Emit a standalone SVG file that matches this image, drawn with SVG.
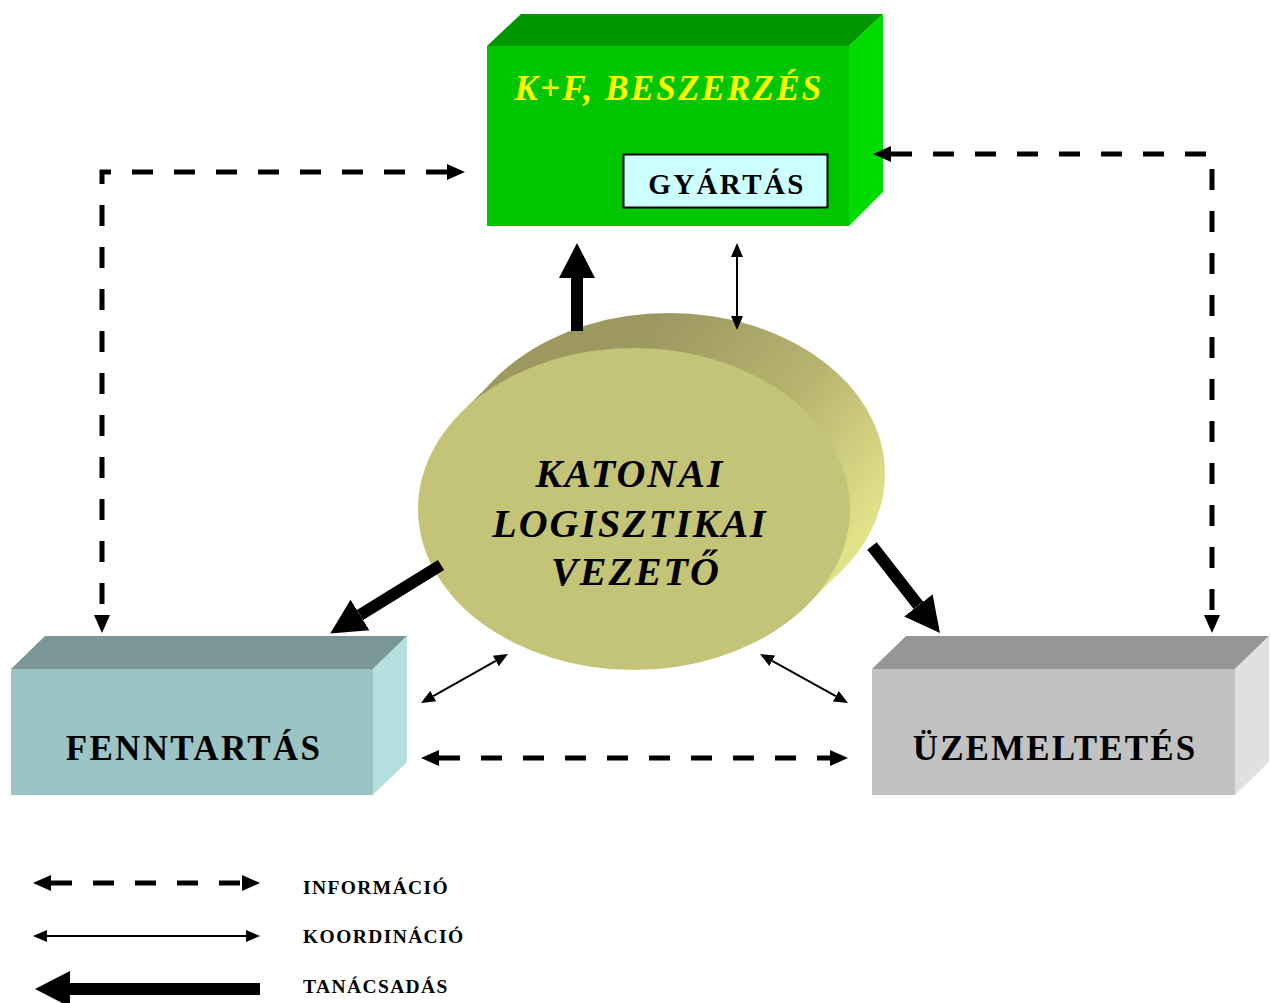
<svg xmlns="http://www.w3.org/2000/svg" width="1271" height="1003" viewBox="0 0 1271 1003">
  <style>
    .lbl { font-family: "Liberation Serif", "Times New Roman", serif; font-weight: bold; fill: #000; text-anchor: middle; }
    .leg { font-family: "Liberation Serif", "Times New Roman", serif; font-weight: bold; fill: #000; font-size: 19.5px; letter-spacing: 1.4px; }
    .dash { fill: none; stroke: #000; stroke-width: 5; stroke-dasharray: 21 21; }
    .thin { fill: none; stroke: #000; stroke-width: 2; }
    .thick { fill: none; stroke: #000; stroke-width: 12; }
  </style>
  <defs>
    <marker id="hDash" markerUnits="userSpaceOnUse" viewBox="0 -10 20 20" markerWidth="20" markerHeight="20" refX="0" refY="0" orient="auto-start-reverse">
      <path d="M0,-8 L18,0 L0,8 Z" fill="#000"/>
    </marker>
    <marker id="hThin" markerUnits="userSpaceOnUse" viewBox="0 -8 16 16" markerWidth="16" markerHeight="16" refX="0" refY="0" orient="auto-start-reverse">
      <path d="M0,-6 L14,0 L0,6 Z" fill="#000"/>
    </marker>
    <marker id="hThick" markerUnits="userSpaceOnUse" viewBox="0 -20 40 40" markerWidth="40" markerHeight="40" refX="0" refY="0" orient="auto-start-reverse">
      <path d="M0,-18 L35,0 L0,18 Z" fill="#000"/>
    </marker>
    <linearGradient id="discSide" x1="0" y1="0" x2="1" y2="0.6">
      <stop offset="0.35" stop-color="#9c9860"/>
      <stop offset="0.7" stop-color="#b8b470"/>
      <stop offset="1" stop-color="#e2e28a"/>
    </linearGradient>
  </defs>

  <!-- K+F, BESZERZÉS block -->
  <g id="node-kf">
    <polygon points="487,46 521,14 883,14 849,46" fill="#009600"/>
    <polygon points="849,46 883,14 883,192 849,226" fill="#00dc00"/>
    <rect x="487" y="46" width="362" height="180" fill="#00c600"/>
    <text x="669" y="100" class="lbl" font-size="35" font-style="italic" letter-spacing="2.2" style="fill:#ffff00">K+F, BESZERZÉS</text>
    <g id="node-gyartas">
      <rect x="623.5" y="154.5" width="204" height="53" fill="#ccffff" stroke="#000" stroke-width="2"/>
      <text x="727" y="194" class="lbl" font-size="29" letter-spacing="2.4">GYÁRTÁS</text>
    </g>
  </g>

  <!-- KATONAI LOGISZTIKAI VEZETŐ disc -->
  <g id="node-vezeto">
    <ellipse cx="669" cy="474" rx="216" ry="161" fill="url(#discSide)"/>
    <polygon points="461,413 496,378 842,570 807,605" fill="url(#discSide)"/>
    <ellipse cx="634" cy="509" rx="216" ry="161" fill="#c4c478"/>
    <text class="lbl" font-size="40" font-style="italic" letter-spacing="2">
      <tspan x="636" y="487">KATONAI</tspan>
      <tspan x="636" y="537">LOGISZTIKAI</tspan>
      <tspan x="636" y="585">VEZETŐ</tspan>
    </text>
  </g>

  <!-- FENNTARTÁS block -->
  <g id="node-fenntartas">
    <polygon points="11,669 45,636 407,636 373,669" fill="#7a9696"/>
    <polygon points="373,669 407,636 407,762 373,795" fill="#b4e0e0"/>
    <rect x="11" y="669" width="362" height="126" fill="#9cc4c4"/>
    <text x="194" y="760" class="lbl" font-size="35" letter-spacing="2.3">FENNTARTÁS</text>
  </g>

  <!-- ÜZEMELTETÉS block -->
  <g id="node-uzemeltetes">
    <polygon points="872,669 906,636 1269,636 1235,669" fill="#969696"/>
    <polygon points="1235,669 1269,636 1269,762 1235,795" fill="#e0e0e0"/>
    <rect x="872" y="669" width="363" height="126" fill="#c2c2c2"/>
    <text x="1055" y="760" class="lbl" font-size="35" letter-spacing="2.1">ÜZEMELTETÉS</text>
  </g>

  <!-- connectors -->
  <g id="connectors">
    <!-- information (dashed) -->
    <path class="dash" d="M447,172 L102,172 L102,615" marker-start="url(#hDash)" marker-end="url(#hDash)"/>
    <path class="dash" d="M891,154 L1212,154 L1212,615" marker-start="url(#hDash)" marker-end="url(#hDash)"/>
    <path class="dash" d="M439,758 L830,758" marker-start="url(#hDash)" marker-end="url(#hDash)"/>
    <!-- coordination (thin) -->
    <path class="thin" d="M737,257 L737,316" marker-start="url(#hThin)" marker-end="url(#hThin)"/>
    <path class="thin" d="M433.2,696.1 L495.8,660.9" marker-start="url(#hThin)" marker-end="url(#hThin)"/>
    <path class="thin" d="M772.2,660.8 L835.8,696.2" marker-start="url(#hThin)" marker-end="url(#hThin)"/>
    <!-- advice (thick) -->
    <path class="thick" d="M577,331 L577,278" marker-end="url(#hThick)"/>
    <path class="thick" d="M441,565 L360,615" marker-end="url(#hThick)"/>
    <path class="thick" d="M872,546 L918.4,605.4" marker-end="url(#hThick)"/>
  </g>

  <!-- legend -->
  <g id="legend">
    <path class="dash" d="M51,883 L242,883" marker-start="url(#hDash)" marker-end="url(#hDash)"/>
    <path class="thin" d="M47,936 L246,936" marker-start="url(#hThin)" marker-end="url(#hThin)"/>
    <path class="thick" d="M260,989 L70,989" marker-end="url(#hThick)"/>
    <text x="303" y="894" class="leg">INFORMÁCIÓ</text>
    <text x="303" y="943" class="leg">KOORDINÁCIÓ</text>
    <text x="303" y="993" class="leg">TANÁCSADÁS</text>
  </g>
</svg>
